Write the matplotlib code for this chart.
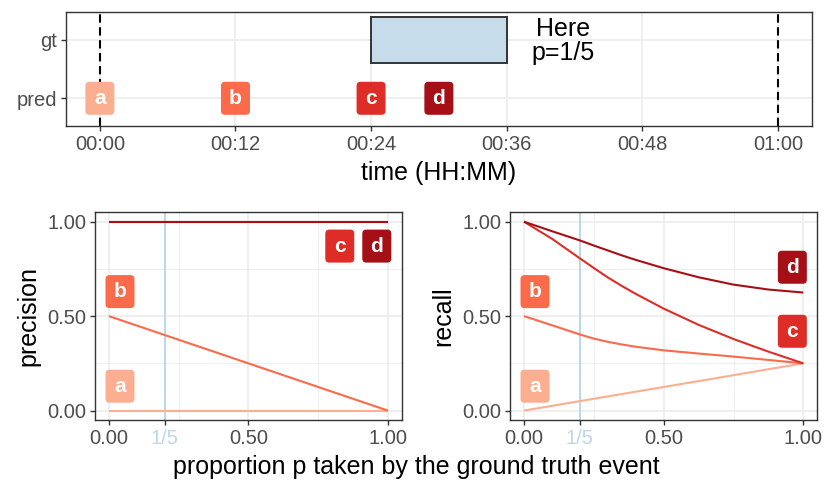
import matplotlib
matplotlib.use("Agg")
import matplotlib.pyplot as plt
import matplotlib.transforms as mtransforms
from matplotlib.patches import FancyBboxPatch, Rectangle

plt.rcParams['font.family'] = ['Liberation Sans', 'DejaVu Sans']

# ---- data ----
rows = ['pred', 'gt']
gt_event = (24, 36)            # minutes
bounds = [0, 60]               # dashed limits of the series
pred_names = ['a', 'b', 'c', 'd']
pred_times = [0, 12, 24, 30]
pred_colors = ['#FCAE91', '#FB6A4A', '#DE2D26', '#A50F15']
time_ticks = [0, 12, 24, 36, 48, 60]

p_prec = [0.0, 1.0]
prec_a = [0.0, 0.0]
prec_b = [0.5, 0.0]
prec_c = [1.0, 1.0]
prec_d = [1.0, 1.0]

p_rec = [0.0, 0.1, 0.2, 0.25, 0.3, 0.35, 0.4, 0.5, 0.625, 0.75, 0.875, 1.0]
rec_a = [0.0, 0.025, 0.05, 0.0625, 0.075, 0.0875, 0.1, 0.125, 0.156, 0.1875, 0.219, 0.25]
rec_b = [0.5, 0.452, 0.403, 0.381, 0.364, 0.350, 0.338, 0.319, 0.302, 0.286, 0.268, 0.25]
rec_c = [1.0, 0.91, 0.806, 0.755, 0.705, 0.66, 0.618, 0.54, 0.454, 0.379, 0.312, 0.25]
rec_d = [1.0, 0.95, 0.901, 0.874, 0.848, 0.822, 0.798, 0.754, 0.706, 0.667, 0.641, 0.625]

p_marked = 0.2
blue_line = '#BDD7EA'
GRID = '#EBEBEB'
DARK = '#333333'
TICK_TXT = '#4D4D4D'

fig = plt.figure(figsize=(8.3, 4.98), dpi=100)


def style(ax):
    for s in ax.spines.values():
        s.set_color(DARK)
        s.set_linewidth(1.0)
    ax.tick_params(length=3.5, width=1.0, color=DARK, labelcolor=TICK_TXT,
                   labelsize=14.5, pad=3)
    ax.set_axisbelow(True)


def tag(ax, x, y, s, color, dx=0, w=29, h=33):
    tr = mtransforms.Affine2D().translate(dx, 0) + \
        mtransforms.ScaledTranslation(x, y, ax.transData)
    box = FancyBboxPatch((-w / 2, -h / 2), w, h,
                         boxstyle="round,pad=0,rounding_size=4",
                         transform=tr, facecolor=color, edgecolor='none',
                         clip_on=False, zorder=5)
    ax.add_artist(box)
    ax.annotate(s, (x, y), xytext=(dx * 72 / fig.dpi, 0),
                textcoords='offset points', ha='center', va='center',
                color='white', fontsize=15, fontweight='bold', zorder=6)


# ---- top panel ----
ax0 = fig.add_axes([0.0795, 0.7476, 0.8985, 0.2277])
style(ax0)
ax0.set_xlim(-3, 63)
ax0.set_ylim(0.53, 2.475)
for t in time_ticks:
    ax0.axvline(t, color=GRID, lw=1.1, zorder=0)
for r in range(len(rows)):
    ax0.axhline(r + 1, color=GRID, lw=1.1, zorder=0)
ax0.add_patch(Rectangle((gt_event[0], 2 - 0.4), gt_event[1] - gt_event[0], 0.8,
                        facecolor='#C6DCEB', edgecolor=DARK, lw=1.4, zorder=2))
for b in bounds:
    ax0.axvline(b, color='black', lw=1.5, ls=(0, (4, 2.2)), zorder=3)
for name, t, c in zip(pred_names, pred_times, pred_colors):
    tag(ax0, t, 1, name, c)
ax0.text(41, 1.98, 'Here\np=1/5', ha='center', va='center', fontsize=18,
         linespacing=1.0, color='black')
ax0.set_xticks(time_ticks)
ax0.set_xticklabels([f"{t // 60:02d}:{t % 60:02d}" for t in time_ticks])
ax0.set_yticks([1, 2])
ax0.set_yticklabels(rows)
ax0.set_xlabel('time (HH:MM)', fontsize=18, labelpad=5)

# ---- bottom panels ----
def bottom(rect, ylabel, curves):
    ax = fig.add_axes(rect)
    style(ax)
    ax.set_xlim(-0.05, 1.05)
    ax.set_ylim(-0.05, 1.05)
    for v in [0.25, 0.75]:
        ax.axvline(v, color=GRID, lw=0.6, zorder=0)
        ax.axhline(v, color=GRID, lw=0.6, zorder=0)
    for v in [0, 0.2, 0.5, 1]:
        ax.axvline(v, color=GRID, lw=1.1, zorder=0)
    for v in [0, 0.5, 1]:
        ax.axhline(v, color=GRID, lw=1.1, zorder=0)
    ax.axvline(p_marked, color=blue_line, lw=1.4, zorder=1)
    for (xs, ys), c in zip(curves, pred_colors):
        ax.plot(xs, ys, color=c, lw=1.5, zorder=3, solid_capstyle='butt')
    ax.set_xticks([0, 0.2, 0.5, 1])
    ax.set_xticklabels(['0.00', '1/5', '0.50', '1.00'])
    ax.get_xticklabels()[1].set_color(blue_line)
    ax.set_yticks([0, 0.5, 1])
    ax.set_yticklabels(['0.00', '0.50', '1.00'])
    ax.set_ylabel(ylabel, fontsize=18, labelpad=5)
    return ax


ax1 = bottom([0.1145, 0.1566, 0.3695, 0.4171], 'precision',
             [(p_prec, prec_a), (p_prec, prec_b), (p_prec, prec_c), (p_prec, prec_d)])
tag(ax1, 0, 0.129, 'a', pred_colors[0], dx=11)
tag(ax1, 0, 0.63, 'b', pred_colors[1], dx=11)
tag(ax1, 1, 0.871, 'c', pred_colors[2], dx=-48)
tag(ax1, 1, 0.871, 'd', pred_colors[3], dx=-11)

ax2 = bottom([0.6145, 0.1566, 0.3702, 0.4171], 'recall',
             [(p_rec, rec_a), (p_rec, rec_b), (p_rec, rec_c), (p_rec, rec_d)])
tag(ax2, 0, 0.129, 'a', pred_colors[0], dx=11)
tag(ax2, 0, 0.63, 'b', pred_colors[1], dx=11)
tag(ax2, 1, 0.42, 'c', pred_colors[2], dx=-11)
tag(ax2, 1, 0.759, 'd', pred_colors[3], dx=-11)

fig.text(0.501, 0.062, 'proportion p taken by the ground truth event',
         ha='center', va='center', fontsize=18)

fig.savefig('out.png', dpi=100)
